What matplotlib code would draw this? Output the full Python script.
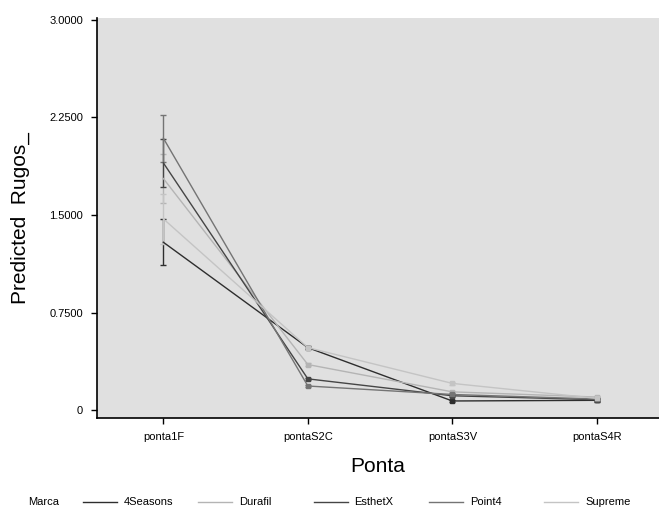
import numpy as np
import matplotlib.pyplot as plt
import matplotlib as mpl
from matplotlib.lines import Line2D

mpl.rcParams["font.family"] = ["Liberation Sans", "DejaVu Sans"]

# data
pontas = ["ponta1F", "pontaS2C", "pontaS3V", "pontaS4R"]
marcas = ["4Seasons", "Durafil", "EsthetX", "Point4", "Supreme"]

v_4seasons = [1.29, 0.48, 0.07, 0.075]
v_durafil = [1.78, 0.35, 0.14, 0.10]
v_esthetx = [1.90, 0.24, 0.11, 0.08]
v_point4 = [2.09, 0.185, 0.12, 0.085]
v_supreme = [1.47, 0.48, 0.205, 0.09]

e_4seasons = [0.175, 0.01, 0.01, 0.01]
e_durafil = [0.19, 0.01, 0.01, 0.01]
e_esthetx = [0.185, 0.01, 0.01, 0.01]
e_point4 = [0.18, 0.01, 0.01, 0.01]
e_supreme = [0.19, 0.01, 0.01, 0.01]

values = [v_4seasons, v_durafil, v_esthetx, v_point4, v_supreme]
errs = [e_4seasons, e_durafil, e_esthetx, e_point4, e_supreme]
colors = ["#2e2e2e", "#b4b4b4", "#454545", "#747474", "#c4c4c4"]

fig = plt.figure(figsize=(6.59, 5.09), dpi=100)
ax = fig.add_axes([0.147, 0.179, 0.853, 0.786])
ax.set_facecolor("#e0e0e0")

x = np.arange(len(pontas))
for v, e, c, m in zip(values, errs, colors, marcas):
    ax.errorbar(x, v, yerr=e, color=c, linewidth=1.0, elinewidth=1.0,
                capsize=2, capthick=1.0, marker="s", markersize=2.5,
                markevery=[1, 2, 3], label=m)

ax.set_xlim(-0.46, 3.43)
ax.set_ylim(-0.06, 3.015)
ax.set_xticks(x)
ax.set_xticklabels(pontas, fontsize=8)
ax.set_yticks([0, 0.75, 1.5, 2.25, 3.0])
ax.set_yticklabels(["0", "0.7500", "1.5000", "2.2500", "3.0000"], fontsize=8)
ax.tick_params(direction="out", length=4, width=1, pad=6)

for s in ["top", "right"]:
    ax.spines[s].set_visible(False)
ax.spines["left"].set_linewidth(1.2)
ax.spines["bottom"].set_linewidth(1.2)

ax.set_xlabel("Ponta", fontsize=15, labelpad=11)
ax.set_ylabel("Predicted  Rugos_", fontsize=15, labelpad=14)

# legend row at the bottom, fixed slots
ly = 0.014
fig.text(28 / 659, ly, "Marca", fontsize=8, va="center")
for i, (c, m) in enumerate(zip(colors, marcas)):
    x0 = (83 + 115.3 * i) / 659
    fig.add_artist(Line2D([x0, x0 + 34 / 659], [ly, ly], color=c,
                          linewidth=1.0, transform=fig.transFigure))
    fig.text(x0 + 41 / 659, ly, m, fontsize=8, va="center")

fig.savefig("out.png", dpi=100)
